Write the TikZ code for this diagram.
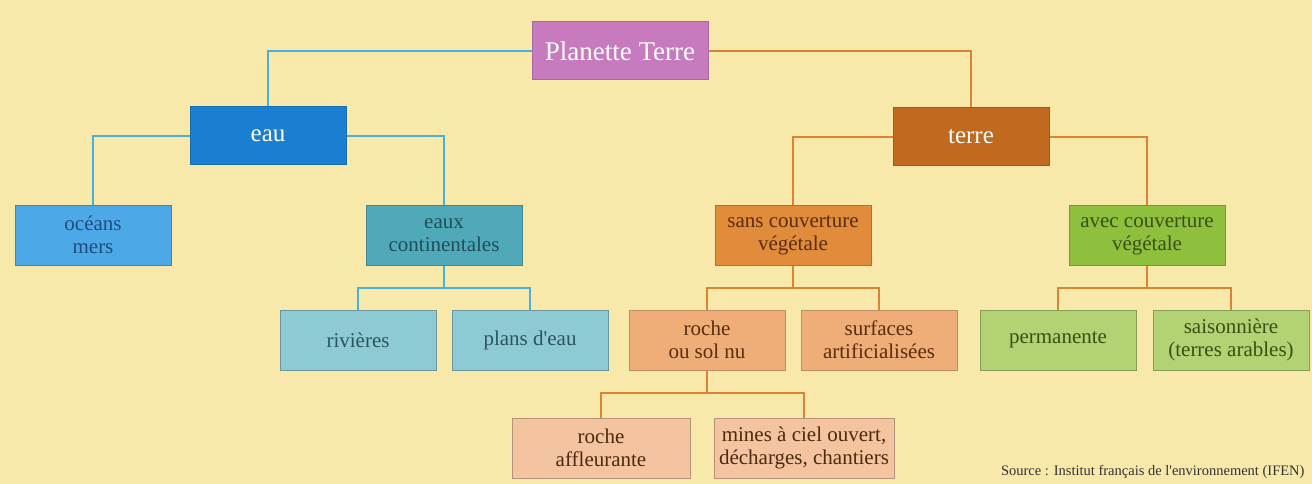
\documentclass[tikz,border=0pt]{standalone}
\usepackage{fontspec}
\setmainfont{Liberation Serif}[Ligatures=TeXOff]
\definecolor{bg}{HTML}{F8E9AB}
\definecolor{cpink}{HTML}{C77BBE}
\definecolor{ceau}{HTML}{1A7FD0}
\definecolor{cterre}{HTML}{C0691F}
\definecolor{cocean}{HTML}{4DA8E8}
\definecolor{tocean}{HTML}{1E4E7C}
\definecolor{ceauc}{HTML}{4FA9B8}
\definecolor{teauc}{HTML}{1F4F5A}
\definecolor{criv}{HTML}{8DCAD3}
\definecolor{triv}{HTML}{2A5560}
\definecolor{csans}{HTML}{E08C3A}
\definecolor{tsans}{HTML}{5A2D0A}
\definecolor{croche}{HTML}{EFAE78}
\definecolor{cbot}{HTML}{F4C3A0}
\definecolor{tbot}{HTML}{4A2A10}
\definecolor{cavec}{HTML}{8EC03E}
\definecolor{tavec}{HTML}{3A5010}
\definecolor{cperm}{HTML}{B2D274}
\definecolor{lblue}{HTML}{4BB0D8}
\definecolor{lorange}{HTML}{D98535}
\tikzset{
  box/.style={rectangle, minimum width=156pt, minimum height=60pt, inner sep=2pt, align=center, line width=1pt,
    font=\fontsize{21}{23}\selectfont},
  topbox/.style={box, text=white, font=\fontsize{25}{27}\selectfont},
  lb/.style={draw=lblue, line width=1.6pt},
  lo/.style={draw=lorange, line width=1.6pt},
}
\begin{document}
\begin{tikzpicture}[x=1pt,y=-1pt]
\fill[bg] (0,0) rectangle (1312,484);
\useasboundingbox (0,0) rectangle (1312,484);
% nodes
\node[topbox, fill=cpink, draw=cpink!85!black, minimum width=176pt, minimum height=58pt, font=\fontsize{27}{29}\selectfont] (pt) at (620,51) {Planette Terre};
\node[topbox, fill=ceau, draw=ceau!85!black, minimum height=58pt] (eau) at (268,136) {eau};
\node[topbox, fill=cterre, draw=cterre!85!black, minimum height=58pt] (terre) at (971,137) {terre};
\node[box, fill=cocean, draw=cocean!80!black, text=tocean] (ocean) at (93,235) {océans\\mers};
\node[box, fill=ceauc, draw=ceauc!80!black, text=teauc] (eauc) at (444,235) {eaux\\continentales};
\node[box, fill=criv, draw=criv!75!black, text=triv] (riv) at (358,340) {rivières};
\node[box, fill=criv, draw=criv!75!black, text=triv] (plans) at (530,340) {plans d'eau};
\node[box, fill=csans, draw=csans!80!black, text=tsans] (sans) at (793,235) {sans couverture\\végétale};
\node[box, fill=cavec, draw=cavec!80!black, text=tavec] (avec) at (1147,235) {avec couverture\\végétale};
\node[box, fill=croche, draw=croche!80!black, text=tsans] (roche) at (707,340) {roche\\ou sol nu};
\node[box, fill=croche, draw=croche!80!black, text=tsans] (surf) at (879,340) {surfaces\\artificialisées};
\node[box, fill=cperm, draw=cperm!75!black, text=tavec] (perm) at (1058,340) {permanente};
\node[box, fill=cperm, draw=cperm!75!black, text=tavec] (sais) at (1231,340) {saisonnière\\(terres arables)};
\node[box, fill=cbot, draw=cbot!75!black, text=tbot, minimum width=178pt] (aff) at (601,448) {roche\\affleurante};
\node[box, fill=cbot, draw=cbot!75!black, text=tbot, minimum width=180pt] (mines) at (804,448) {mines à ciel ouvert,\\décharges, chantiers};
\node[anchor=base east, font=\fontsize{14.5}{16}\selectfont, text=black!80] (src) at (1308,475) {Source : Institut français de l'environnement (IFEN)};
% junctions
\coordinate (j1) at (444,288);
\coordinate (j2) at (793,288);
\coordinate (j3) at (1147,288);
\coordinate (j4) at (707,393);
% connectors
\draw[lb] (pt.west) -| (eau.north);
\draw[lo] (pt.east) -| (terre.north);
\draw[lb] (eau.west) -| (ocean.north);
\draw[lb] (eau.east) -| (eauc.north);
\draw[lo] (terre.west) -| (sans.north);
\draw[lo] (terre.east) -| (avec.north);
\draw[lb] (eauc.south) -- (j1);
\draw[lb] (riv.north) |- (j1) -| (plans.north);
\draw[lo] (sans.south) -- (j2);
\draw[lo] (roche.north) |- (j2) -| (surf.north);
\draw[lo] (avec.south) -- (j3);
\draw[lo] (perm.north) |- (j3) -| (sais.north);
\draw[lo] (roche.south) -- (j4);
\draw[lo] (aff.north) |- (j4) -| (mines.north);
\end{tikzpicture}
\end{document}
